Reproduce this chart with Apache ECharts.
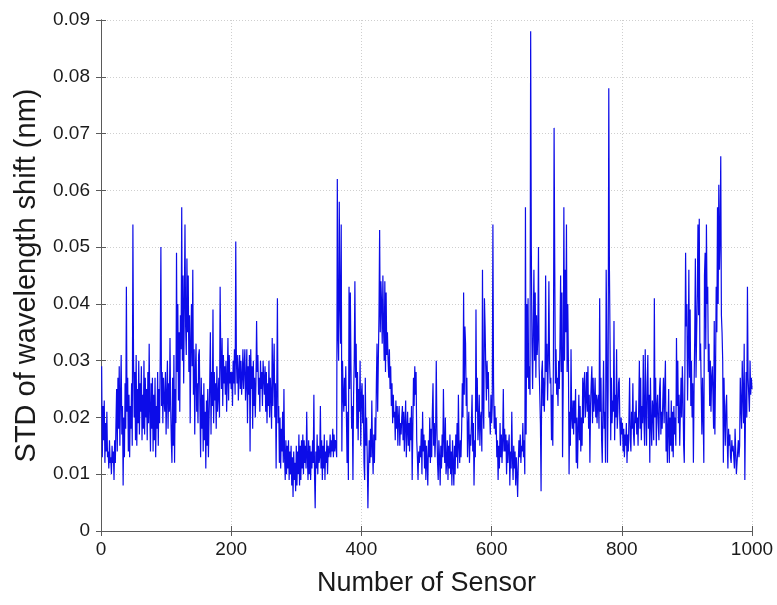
<!DOCTYPE html>
<html>
<head>
<meta charset="utf-8">
<script src="https://cdn.jsdelivr.net/npm/echarts@6/dist/echarts.min.js"></script>
<style>
  html, body { margin: 0; padding: 0; background: #ffffff; }
  #chart { width: 777px; height: 605px; }
</style>
</head>
<body>
<div id="chart"></div>
<script>
// Standard deviation of the wavelength shift for each sensor (nm), sensors 1..1000
const stdShift = [
  .029,.013,.022,.016,.023,.012,.019,.014,.021,.013,
  .014,.011,.016,.012,.013,.010,.015,.012,.014,.009,
  .016,.012,.019,.025,.014,.027,.018,.029,.015,.024,
  .031,.017,.022,.008,.020,.013,.026,.018,.043,.021,
  .027,.014,.024,.013,.022,.018,.026,.015,.054,.030,
  .020,.028,.016,.031,.015,.025,.019,.030,.017,.026,
  .021,.029,.016,.024,.018,.030,.017,.027,.020,.025,
  .016,.028,.019,.033,.021,.014,.026,.018,.027,.014,
  .024,.016,.027,.013,.022,.018,.028,.015,.025,.019,
  .031,.050,.022,.028,.019,.027,.023,.021,.028,.017,
  .024,.030,.018,.026,.021,.034,.022,.016,.012,.027,
  .015,.031,.012,.025,.019,.049,.028,.040,.023,.035,
  .021,.038,.032,.057,.030,.045,.026,.040,.054,.036,
  .031,.048,.035,.045,.028,.038,.019,.033,.040,.029,
  .046,.024,.032,.017,.028,.033,.021,.026,.019,.031,
  .032,.022,.013,.027,.018,.024,.014,.026,.016,.021,
  .011,.023,.015,.025,.013,.020,.026,.035,.017,.028,
  .022,.039,.019,.028,.023,.026,.018,.029,.021,.024,
  .027,.020,.043,.030,.025,.034,.022,.031,.026,.029,
  .024,.030,.021,.027,.034,.023,.031,.026,.028,.025,
  .028,.022,.030,.026,.032,.024,.051,.030,.026,.031,
  .023,.028,.031,.025,.030,.024,.027,.032,.025,.029,
  .032,.023,.026,.032,.019,.029,.024,.031,.014,.032,
  .025,.029,.018,.030,.022,.027,.020,.026,.037,.028,
  .031,.024,.027,.021,.030,.025,.028,.022,.030,.027,
  .024,.029,.021,.028,.019,.026,.022,.030,.020,.027,
  .024,.018,.034,.022,.028,.033,.020,.026,.011,.025,
  .041,.019,.022,.012,.020,.011,.018,.014,.021,.012,
  .025,.013,.009,.016,.010,.015,.011,.016,.009,.014,
  .010,.015,.008,.013,.006,.014,.009,.012,.007,.015,
  .008,.014,.010,.017,.008,.015,.009,.016,.011,.017,
  .010,.016,.012,.015,.011,.021,.013,.009,.016,.010,
  .015,.009,.014,.011,.016,.012,.024,.010,.004,.014,
  .011,.017,.010,.015,.012,.013,.022,.011,.016,.009,
  .015,.011,.017,.009,.014,.012,.016,.010,.015,.013,
  .014,.017,.013,.016,.014,.018,.013,.017,.014,.016,
  .015,.013,.062,.035,.030,.058,.040,.033,.054,.014,
  .030,.024,.021,.027,.022,.029,.020,.012,.021,.009,
  .043,.025,.042,.029,.018,.022,.009,.024,.030,.044,
  .027,.033,.018,.028,.016,.025,.021,.030,.015,.024,
  .026,.019,.024,.012,.009,.027,.015,.020,.013,.004,
  .011,.016,.012,.018,.013,.023,.015,.010,.017,.012,
  .020,.016,.026,.033,.021,.030,.038,.053,.035,.044,
  .040,.033,.045,.036,.030,.044,.028,.042,.031,.035,
  .030,.027,.032,.025,.029,.022,.026,.019,.024,.020,
  .021,.016,.023,.018,.022,.015,.020,.022,.015,.019,
  .017,.020,.022,.016,.021,.014,.019,.023,.013,.018,
  .021,.015,.019,.014,.020,.016,.022,.009,.018,.027,
  .022,.029,.024,.028,.016,.013,.009,.014,.012,.015,
  .013,.018,.010,.021,.014,.017,.011,.016,.009,.015,
  .012,.008,.016,.013,.020,.012,.018,.013,.021,.026,
  .015,.019,.013,.017,.030,.018,.012,.009,.016,.013,
  .008,.015,.011,.017,.013,.025,.016,.012,.020,.010,
  .012,.016,.009,.015,.011,.017,.010,.014,.008,.016,
  .012,.008,.015,.010,.017,.013,.019,.011,.024,.015,
  .012,.016,.013,.018,.026,.020,.042,.024,.036,.033,
  .022,.027,.013,.018,.021,.012,.017,.015,.019,.024,
  .014,.019,.008,.016,.013,.039,.021,.027,.016,.019,
  .024,.015,.020,.021,.014,.046,.022,.018,.041,.036,
  .029,.023,.030,.025,.028,.020,.021,.017,.024,.019,
  .022,.054,.026,.018,.022,.017,.020,.013,.016,.009,
  .015,.011,.019,.013,.017,.012,.016,.025,.014,.018,
  .014,.017,.010,.016,.012,.015,.017,.008,.014,.011,
  .021,.013,.009,.015,.011,.014,.008,.013,.010,.006,
  .012,.016,.013,.017,.012,.015,.014,.019,.013,.016,
  .010,.057,.017,.040,.027,.041,.025,.029,.024,.088,
  .050,.033,.025,.036,.046,.030,.042,.027,.038,.031,
  .034,.050,.029,.024,.019,.007,.028,.030,.022,.027,
  .021,.026,.045,.028,.033,.023,.030,.044,.030,.026,
  .027,.016,.024,.015,.031,.071,.047,.026,.032,.024,
  .027,.022,.030,.025,.033,.045,.028,.042,.013,.026,
  .057,.030,.046,.035,.054,.028,.040,.030,.010,.021,
  .015,.032,.020,.018,.023,.017,.023,.019,.025,.012,
  .020,.011,.018,.024,.016,.022,.014,.020,.015,.027,
  .019,.026,.028,.020,.023,.028,.021,.029,.018,.024,
  .012,.022,.026,.029,.019,.027,.021,.023,.027,.020,
  .024,.019,.023,.024,.018,.041,.021,.027,.016,.012,
  .022,.030,.018,.021,.012,.046,.033,.012,.025,.078,
  .046,.033,.016,.027,.019,.023,.021,.037,.016,.024,
  .020,.032,.018,.021,.026,.027,.019,.015,.020,.017,
  .019,.014,.018,.013,.017,.015,.019,.012,.017,.014,
  .020,.027,.016,.014,.021,.018,.026,.017,.015,.021,
  .019,.023,.017,.020,.015,.022,.030,.018,.027,.016,
  .022,.019,.031,.020,.015,.032,.021,.015,.026,.031,
  .018,.024,.012,.027,.019,.015,.023,.021,.016,.041,
  .020,.027,.015,.022,.024,.019,.016,.025,.027,.017,
  .021,.018,.023,.027,.019,.025,.030,.014,.021,.012,
  .018,.025,.012,.020,.015,.023,.014,.021,.013,.022,
  .017,.020,.015,.034,.022,.030,.019,.024,.015,.021,
  .027,.020,.029,.024,.015,.012,.030,.049,.036,.040,
  .023,.031,.046,.027,.039,.022,.030,.020,.026,.012,
  .025,.034,.048,.027,.035,.042,.054,.038,.055,.030,
  .033,.025,.017,.027,.020,.012,.045,.049,.032,.054,
  .040,.043,.028,.033,.022,.030,.021,.027,.029,.024,
  .018,.037,.017,.028,.043,.035,.057,.040,.061,.046,
  .052,.066,.038,.035,.030,.012,.027,.020,.015,.022,
  .024,.016,.011,.018,.015,.017,.013,.012,.016,.014,
  .015,.015,.011,.018,.014,.010,.012,.014,.016,.013,
  .015,.027,.022,.018,.030,.024,.019,.033,.009,.021,
  .028,.020,.043,.027,.024,.021,.030,.024,.027,.025
];

// Sensor numbers 1..N paired with their values
const sensorNumbers = stdShift.map((_, i) => i + 1);
const points = sensorNumbers.map((s, i) => [s, stdShift[i]]);

// Axis ranges and tick steps
const xRange = [0, 1000];
const xStep = 200;
const yRange = [0, 0.09];
const yStep = 0.01;

const FONT = '"Liberation Sans", Arial, Helvetica, sans-serif';
const frameColor = '#5a5a5a';
const gridLineStyle = { color: '#cfcfcf', width: 1, type: [1, 2] };

const chart = echarts.init(document.getElementById('chart'), null, { renderer: 'canvas' });

const mirroredX = {
  type: 'value', position: 'top', min: xRange[0], max: xRange[1], interval: xStep,
  axisLine: { show: true, lineStyle: { color: frameColor, width: 1 } },
  axisTick: { show: true, inside: true, length: 5, lineStyle: { color: frameColor } },
  axisLabel: { show: false }, splitLine: { show: false }
};
const mirroredY = {
  type: 'value', position: 'right', min: yRange[0], max: yRange[1], interval: yStep,
  axisLine: { show: true, lineStyle: { color: frameColor, width: 1 } },
  axisTick: { show: true, inside: true, length: 5, lineStyle: { color: frameColor } },
  axisLabel: { show: false }, splitLine: { show: false }
};

chart.setOption({
  animation: false,
  backgroundColor: '#ffffff',
  grid: { left: 101, right: 25, top: 20, bottom: 74, containLabel: false },
  xAxis: [{
    type: 'value', position: 'bottom', min: xRange[0], max: xRange[1], interval: xStep,
    name: 'Number of Sensor', nameLocation: 'middle', nameGap: 39,
    nameTextStyle: { fontFamily: FONT, fontSize: 27, color: '#1a1a1a' },
    axisLine: { show: true, onZero: false, lineStyle: { color: frameColor, width: 1 } },
    axisTick: { show: true, inside: true, length: 5, lineStyle: { color: frameColor } },
    axisLabel: {
      fontFamily: FONT, fontSize: 19, color: '#1a1a1a', margin: 9,
      formatter: v => String(v)
    },
    splitLine: { show: true, lineStyle: gridLineStyle }
  }, mirroredX],
  yAxis: [{
    type: 'value', position: 'left', min: yRange[0], max: yRange[1], interval: yStep,
    name: 'STD of wavelength shift (nm)', nameLocation: 'middle', nameGap: 60,
    nameTextStyle: { fontFamily: FONT, fontSize: 29, color: '#1a1a1a' },
    axisLine: { show: true, onZero: false, lineStyle: { color: frameColor, width: 1 } },
    axisTick: { show: true, inside: true, length: 5, lineStyle: { color: frameColor } },
    axisLabel: {
      fontFamily: FONT, fontSize: 19, color: '#1a1a1a', margin: 11,
      formatter: v => (v === 0 ? '0' : v.toFixed(2))
    },
    splitLine: { show: true, lineStyle: gridLineStyle }
  }, mirroredY],
  series: [{
    type: 'line',
    data: points,
    xAxisIndex: 0, yAxisIndex: 0,
    showSymbol: false,
    lineStyle: { color: '#0c0ce8', width: 1.2 },
    itemStyle: { color: '#0c0ce8' }
  }]
});
</script>
</body>
</html>
